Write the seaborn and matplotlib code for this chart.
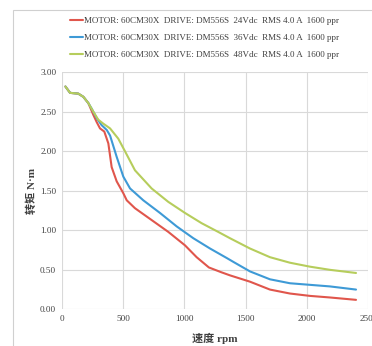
import numpy as np
import pandas as pd
import matplotlib
matplotlib.use("Agg")
import matplotlib.pyplot as plt
import seaborn as sns
from matplotlib.patches import Rectangle
from matplotlib.lines import Line2D

series_names = [
    "MOTOR: 60CM30X  DRIVE: DM556S  24Vdc  RMS 4.0 A  1600 ppr",
    "MOTOR: 60CM30X  DRIVE: DM556S  36Vdc  RMS 4.0 A  1600 ppr",
    "MOTOR: 60CM30X  DRIVE: DM556S  48Vdc  RMS 4.0 A  1600 ppr",
]
colors = ["#E0564C", "#3E9AD6", "#B6CD5C"]

rpm_24 = [30, 68, 135, 176, 217, 258, 285, 312, 347, 380, 407, 448, 502, 530, 597, 733, 869, 1005, 1100, 1200, 1300, 1372, 1535, 1698, 1861, 2024, 2187, 2400]
torque_24 = [2.82, 2.74, 2.73, 2.69, 2.61, 2.46, 2.37, 2.29, 2.25, 2.10, 1.80, 1.62, 1.47, 1.38, 1.28, 1.13, 0.98, 0.81, 0.66, 0.53, 0.47, 0.43, 0.35, 0.25, 0.20, 0.17, 0.15, 0.12]

rpm_36 = [30, 68, 135, 176, 217, 244, 285, 326, 367, 394, 448, 502, 557, 665, 801, 937, 1073, 1209, 1345, 1400, 1535, 1698, 1861, 2024, 2187, 2400]
torque_36 = [2.82, 2.74, 2.73, 2.69, 2.61, 2.54, 2.42, 2.33, 2.27, 2.20, 1.93, 1.68, 1.53, 1.38, 1.22, 1.05, 0.90, 0.77, 0.65, 0.60, 0.48, 0.38, 0.33, 0.31, 0.29, 0.25]

rpm_48 = [30, 68, 135, 176, 217, 258, 298, 339, 394, 461, 516, 597, 733, 869, 1005, 1141, 1276, 1372, 1535, 1698, 1861, 2024, 2187, 2400]
torque_48 = [2.82, 2.74, 2.73, 2.69, 2.61, 2.50, 2.40, 2.35, 2.29, 2.16, 2.00, 1.76, 1.53, 1.36, 1.22, 1.09, 0.98, 0.90, 0.77, 0.66, 0.59, 0.54, 0.50, 0.46]

x_ticks = [0, 500, 1000, 1500, 2000, 2500]
y_ticks = [0.0, 0.5, 1.0, 1.5, 2.0, 2.5, 3.0]

df = pd.concat([
    pd.DataFrame({"rpm": rpm_24, "torque": torque_24, "series": series_names[0]}),
    pd.DataFrame({"rpm": rpm_36, "torque": torque_36, "series": series_names[1]}),
    pd.DataFrame({"rpm": rpm_48, "torque": torque_48, "series": series_names[2]}),
])

sns.set_theme(style="white")
plt.rcParams["font.family"] = ["Liberation Serif", "Noto Sans CJK SC"]

fig = plt.figure(figsize=(3.72, 3.46), dpi=100)
fig.patch.set_facecolor("white")
ax = fig.add_axes([0.166, 0.106, 0.824, 0.685])

sns.lineplot(data=df, x="rpm", y="torque", hue="series", palette=colors,
             hue_order=series_names, sort=False, estimator=None,
             linewidth=1.5, ax=ax, legend=False)

ax.set_xlim(0, 2500)
ax.set_ylim(0, 3.0)
ax.set_xticks(x_ticks)
ax.set_yticks(y_ticks)
ax.set_xticklabels([str(v) for v in x_ticks])
ax.set_yticklabels([f"{v:.2f}" for v in y_ticks])
ax.grid(True, color="#D9D9D9", linewidth=0.8)
for s in ax.spines.values():
    s.set_visible(False)
ax.tick_params(axis="both", labelsize=6.6, colors="#404040", length=0, pad=4)
ax.set_xlabel("速度 rpm", fontsize=8, fontweight="bold", color="#404040",
              family=["Liberation Serif", "Noto Sans CJK SC"], labelpad=7)
ax.set_ylabel("转矩 N·m", fontsize=8, fontweight="bold", color="#404040",
              family=["Liberation Serif", "Noto Sans CJK SC"], labelpad=2)

handles = [Line2D([0], [0], color=c, linewidth=1.5) for c in colors]
fig.legend(handles, series_names, loc="upper left", bbox_to_anchor=(0.165, 0.975),
           frameon=False, fontsize=6.5, handlelength=1.5, handletextpad=0.1,
           labelspacing=0.95, labelcolor="#404040")

fig.patches.append(Rectangle((0.035, -0.2), 1.2, 0.2 + 0.971, transform=fig.transFigure,
                             fill=False, edgecolor="#D0D0D0", linewidth=0.8))

fig.savefig("out.png", dpi=100)
